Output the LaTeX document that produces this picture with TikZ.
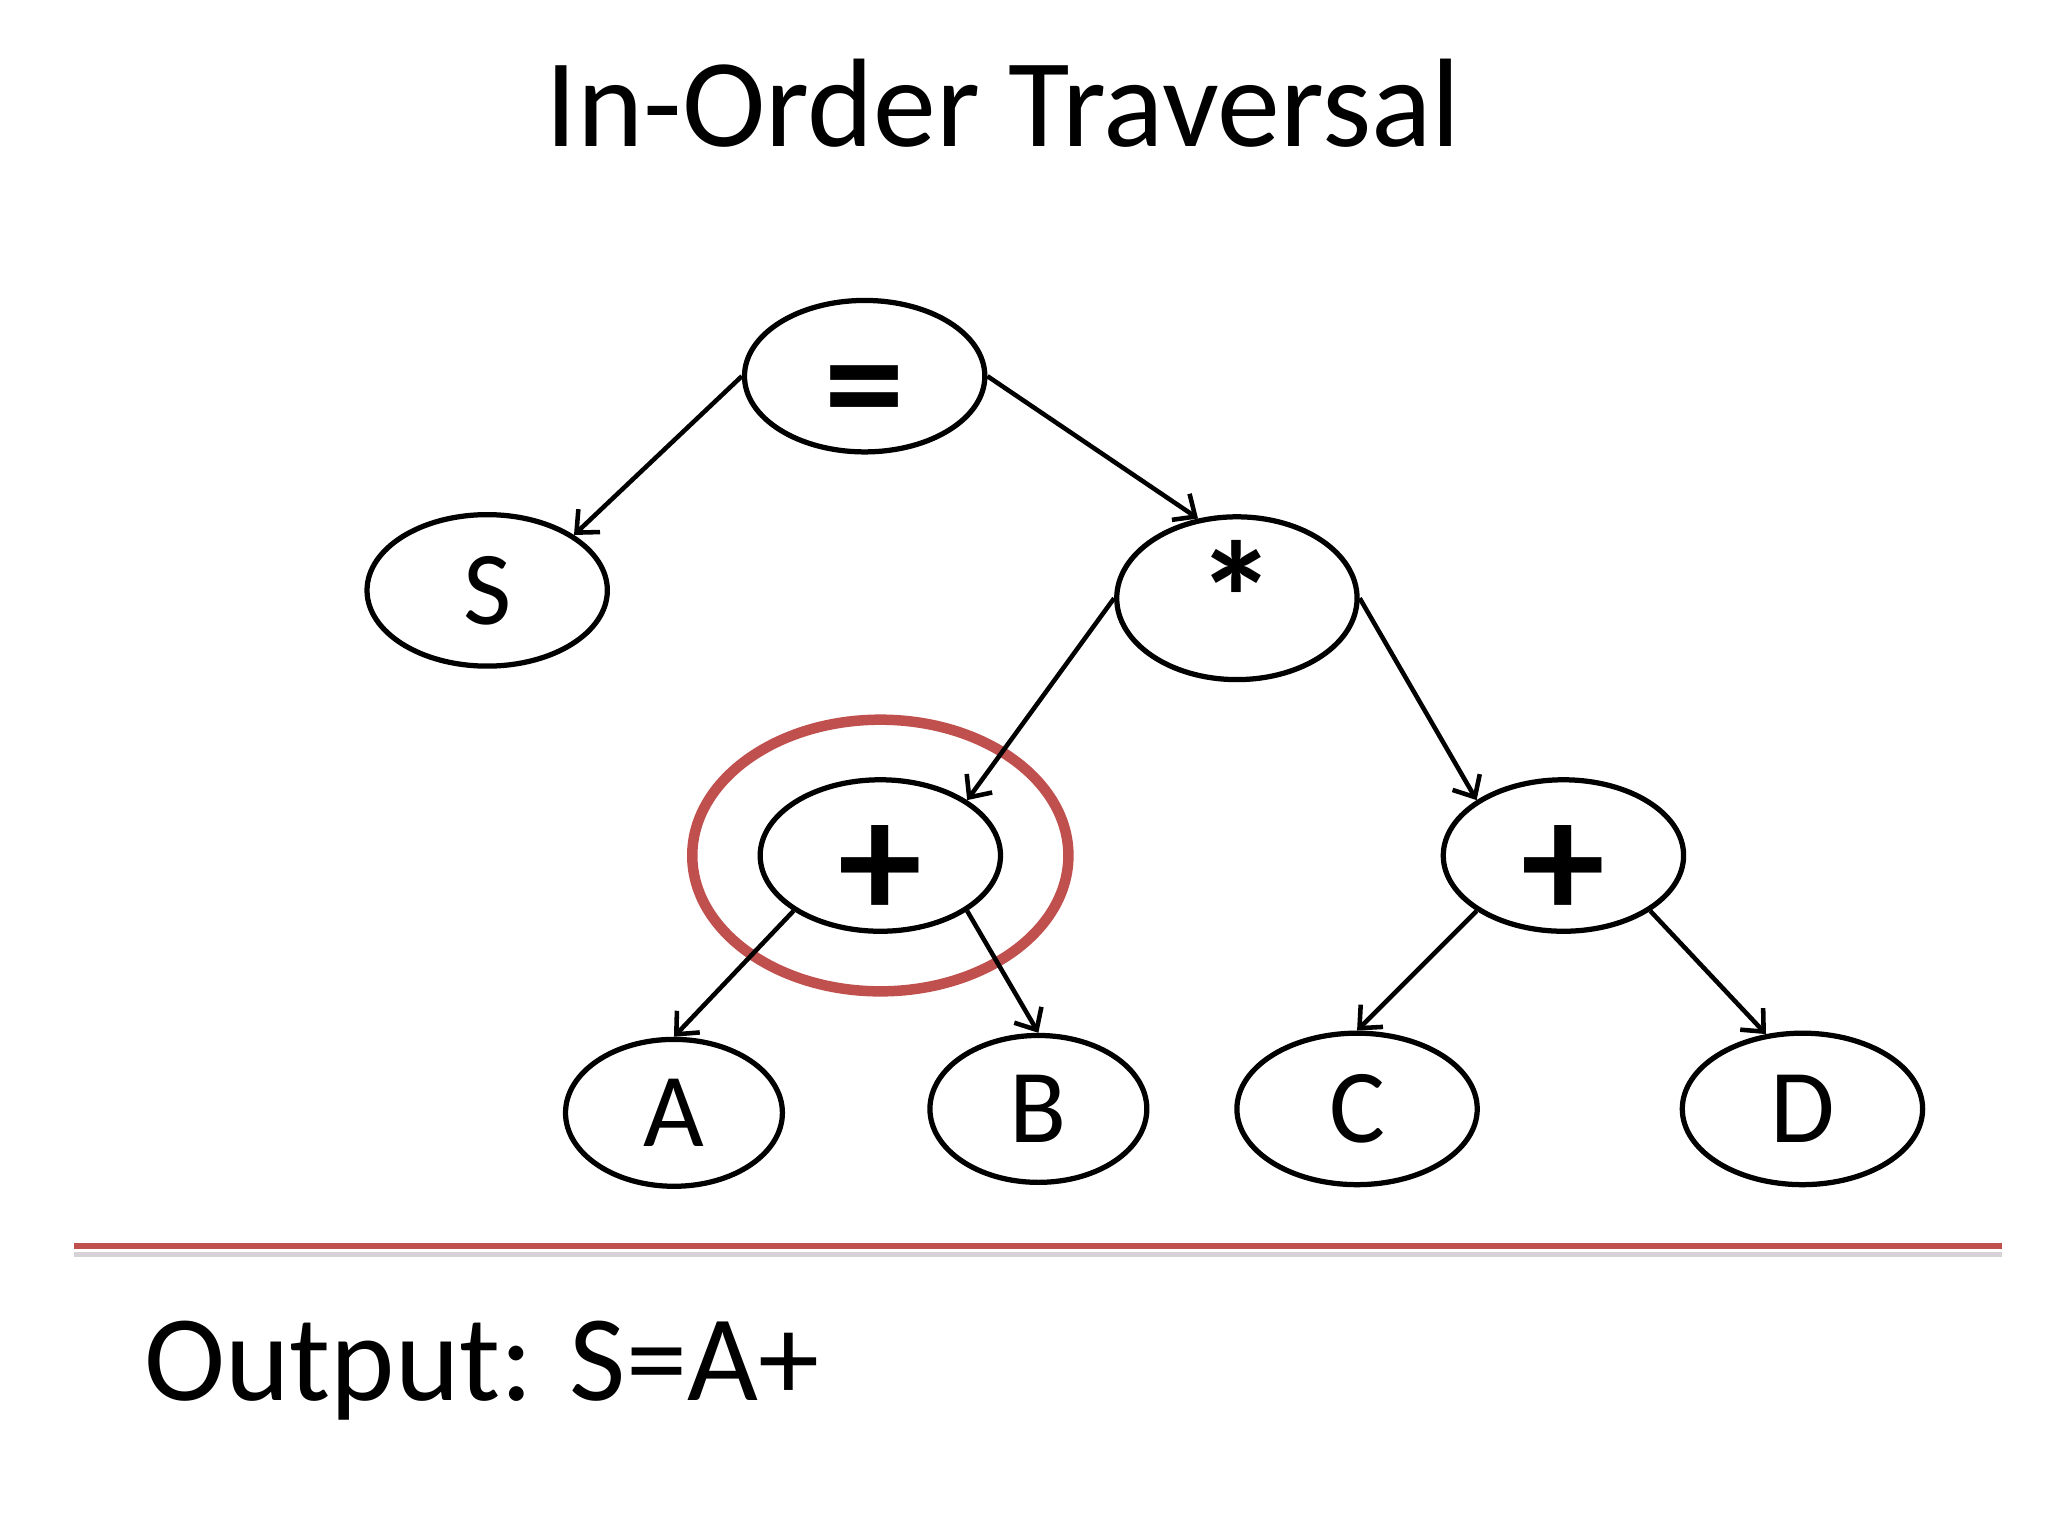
\documentclass[tikz,border=0pt]{standalone}
\usepackage{fontspec}
\setmainfont{Carlito}
\usetikzlibrary{arrows.meta,%
	shapes.geometric}
\definecolor{slidered}{RGB}{192,80,77}
\definecolor{shadowgray}{RGB}{215,210,215}
\newcommand{\letterfont}{\fontsize{30}{36}\selectfont}
\newcommand{\symfont}{\fontsize{46}{52}\selectfont\bfseries}
\newcommand{\plusfont}{\fontsize{48}{54}\selectfont\bfseries}
% symbol lowered to a fixed spot below the node centre
\newcommand{\lowsym}[2]{\raisebox{#1}[0pt][0pt]{#2}}

\begin{document}
\begin{tikzpicture}[x=0.013128cm, y=-0.013128cm,
	vtx/.style={ellipse, draw, line width=1.5pt, minimum width=68.7pt, minimum height=43.3pt, inner sep=0pt},
	smallvtx/.style={vtx, minimum width=62pt, minimum height=42pt},
	edge/.style={line width=1.3pt, -{Straight Barb[length=5pt, width=9pt, line width=1.3pt]}}]
			\useasboundingbox (0,0) rectangle (1568,1176);
			\node[anchor=base, font=\fontsize{36}{42}\selectfont] (title) at (768,112) {In-Order Traversal};
			\node[vtx, font=\symfont] (eq) at (662,288) {\lowsym{-17.5pt}{=}};
			\node[vtx, font=\letterfont] (S) at (373,452) {S};
			\node[vtx, font=\symfont] (star) at (947,458) {*};
			\node[vtx, font=\plusfont] (plusL) at (674,655) {\lowsym{-18pt}{+}};
			\node[vtx, font=\plusfont] (plusR) at (1197,655) {\lowsym{-18pt}{+}};
			\node[smallvtx, font=\letterfont] (A) at (516,852) {A};
			\node[smallvtx, font=\letterfont] (B) at (795,849) {B};
			\node[vtx, font=\letterfont] (C) at (1039,849) {C};
			\node[vtx, font=\letterfont] (D) at (1380,849) {D};
			% current node
			\draw[slidered, line width=3pt] (plusL) ellipse [x radius=144, y radius=104];
			\draw[edge] (eq.west) -- (S.north east);
			\draw[edge] (eq.east) -- (star.116);
			\draw[edge] (star.west) -- (plusL.north east);
			\draw[edge] (star.east) -- (plusR.north west);
			\draw[edge] (plusL.south west) -- (A.north);
			\draw[edge] (plusL.south east) -- (B.north);
			\draw[edge] (plusR.south west) -- (C.north);
			\draw[edge] (plusR.south east) -- (D.116);
			\coordinate (ruleL) at (57,954);
			\coordinate (ruleR) at (1533,954);
			\draw[shadowgray, line width=1.5pt] ([yshift=-2.5pt]ruleL) -- ([yshift=-2.5pt]ruleR);
			\draw[slidered, line width=1.8pt] (ruleL) -- (ruleR);
			\node[anchor=base west, inner sep=0pt, font=\fontsize{35}{42}\selectfont] (output) at (110,1072) {Output: S=A+};
			\end{tikzpicture}
\end{document}
